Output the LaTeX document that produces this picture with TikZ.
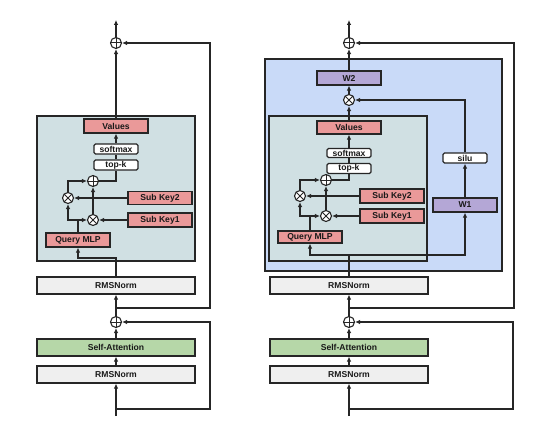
\documentclass[tikz,border=0pt]{standalone}
\usepackage{fontspec}
\setmainfont{Liberation Sans}
\usepackage{tikz}
\usetikzlibrary{arrows.meta,positioning}
\definecolor{memfill}{HTML}{D0E0E3}
\definecolor{ffnfill}{HTML}{C9DAF8}
\definecolor{keyfill}{HTML}{EA9999}
\definecolor{attnfill}{HTML}{B6D7A8}
\definecolor{wfill}{HTML}{B4A7D6}
\definecolor{normfill}{HTML}{EFEFEF}
\definecolor{edge}{HTML}{262626}
\tikzset{
flow/.style={draw=edge, line width=1.25pt, -{Latex[length=5pt,width=4.6pt]}}, % directed edges
wire/.style={draw=edge, line width=1.25pt}, % plain edges
box/.style={draw=edge, line width=1.25pt, inner sep=0pt, font=\bfseries\fontsize{8.6}{9}\selectfont, text=black!90},
wide/.style={box, minimum width=158pt, minimum height=17pt}, % RMSNorm, attention
keybox/.style={box, fill=keyfill, minimum width=64pt, minimum height=14pt},
wbox/.style={box, fill=wfill, minimum width=64pt, minimum height=14pt},
opbox/.style={box, fill=white, rounded corners=1.5pt, minimum width=44pt, minimum height=10pt},
region/.style={draw=edge, line width=1.25pt},
plusop/.style={circle, draw=edge, line width=1.1pt, fill=white, minimum size=11pt, inner sep=0pt,
  path picture={\draw[edge, line width=1pt] (path picture bounding box.north) -- (path picture bounding box.south)
  (path picture bounding box.west) -- (path picture bounding box.east);}},
timesop/.style={circle, draw=edge, line width=1.1pt, fill=white, minimum size=11pt, inner sep=0pt,
  path picture={\draw[edge, line width=1pt] (path picture bounding box.north west) -- (path picture bounding box.south east)
  (path picture bounding box.south west) -- (path picture bounding box.north east);}}
}
\begin{document}
\begin{tikzpicture}[x=1pt, y=-1pt]
    \useasboundingbox (0,0) rectangle (554,428);
    % left: memory layer
    \draw [region, fill=memfill] (37,116) rectangle (195,261);
    \node [plusop] (lplustop) at (116,43) {};
    \node [keybox] (lvalues) at (116,126) {Values};
    \node [opbox] (lsoftmax) at (116,149) {softmax};
    \node [opbox] (ltopk) at (116,165) {top-k};
    \node [plusop] (lplus) at (93,181) {};
    \node [timesop] (lmul2) at (68,198) {};
    \node [timesop] (lmul1) at (93,220) {};
    \node [keybox, minimum height=13pt] (lkey2) at (160,198) {Sub Key2};
    \node [keybox] (lkey1) at (160,220) {Sub Key1};
    \node [keybox] (lquery) at (78,240) {Query MLP};
    \node [wide, fill=normfill] (lnorm2) at (116,285.5) {RMSNorm};
    \node [plusop] (lplusmid) at (116,322) {};
    \node [wide, fill=attnfill] (lattn) at (116,347.5) {Self-Attention};
    \node [wide, fill=normfill] (lnorm1) at (116,374.5) {RMSNorm};
    \coordinate (lin) at (116,416);
    \coordinate (lout) at (116,20);
    \coordinate (lbranch1) at (116,409);
    \coordinate (lbranch2) at (116,308);
    \coordinate (lsplit) at (116,258);
    \draw [flow] (lin) -- (lnorm1.south);
    \draw [flow] (lnorm1.north) -- (lattn.south);
    \draw [flow] (lattn.north) -- (lplusmid.south);
    \draw [flow] (lbranch1) -- ++(94,0) |- (lplusmid.east);
    \draw [flow] (lplusmid.north) -- (lnorm2.south);
    \draw [flow] (lbranch2) -- ++(94,0) |- (lplustop.east);
    \draw [flow] (lnorm2.north) -- (lsplit) -| (lquery.south);
    \draw [flow] (lquery.north) |- (lmul1.west);
    \draw [flow] (lquery.north |- lmul1) -| (lmul2.south);
    \draw [flow] (lkey1.west) -- (lmul1.east);
    \draw [flow] (lkey2.west) -- (lmul2.east);
    \draw [flow] (lmul1.north) -- (lplus.south);
    \draw [flow] (lmul2.north) |- (lplus.west);
    \draw [wire] (lplus.east) -| (ltopk.south);
    \draw [wire] (ltopk.north) -- (lsoftmax.south);
    \draw [flow] (lsoftmax.north) -- (lvalues.south);
    \draw [flow] (lvalues.north) -- (lplustop.south);
    \draw [flow] (lplustop.north) -- (lout);
    % right: gated memory layer
    \draw [region, fill=ffnfill] (265,59) rectangle (502,271);
    \draw [region, fill=memfill] (269,116) rectangle (427,261);
    \node [plusop] (rplustop) at (349,43) {};
    \node [wbox] (rw2) at (349,78) {W2};
    \node [timesop] (rmulout) at (349,100) {};
    \node [keybox, minimum height=13pt] (rvalues) at (349,127.5) {Values};
    \node [opbox, minimum height=9pt] (rsoftmax) at (349,153) {softmax};
    \node [opbox] (rtopk) at (349,168.5) {top-k};
    \node [plusop] (rplus) at (326,180) {};
    \node [timesop] (rmul2) at (300,196) {};
    \node [timesop] (rmul1) at (326,216) {};
    \node [keybox] (rkey2) at (392,196) {Sub Key2};
    \node [keybox] (rkey1) at (392,216) {Sub Key1};
    \node [keybox, minimum height=12pt] (rquery) at (310,237) {Query MLP};
    \node [opbox] (rsilu) at (465,158) {silu};
    \node [wbox] (rw1) at (465,205) {W1};
    \node [wide, fill=normfill] (rnorm2) at (349,285.5) {RMSNorm};
    \node [plusop] (rplusmid) at (349,322) {};
    \node [wide, fill=attnfill] (rattn) at (349,347.5) {Self-Attention};
    \node [wide, fill=normfill] (rnorm1) at (349,374.5) {RMSNorm};
    \coordinate (rin) at (349,416);
    \coordinate (rout) at (349,20);
    \coordinate (rbranch1) at (349,409);
    \coordinate (rbranch2) at (349,308);
    \coordinate (rsplit) at (349,255);
    \draw [flow] (rin) -- (rnorm1.south);
    \draw [flow] (rnorm1.north) -- (rattn.south);
    \draw [flow] (rattn.north) -- (rplusmid.south);
    \draw [flow] (rbranch1) -- ++(164,0) |- (rplusmid.east);
    \draw [flow] (rplusmid.north) -- (rnorm2.south);
    \draw [flow] (rbranch2) -- ++(165,0) |- (rplustop.east);
    \draw [flow] (rnorm2.north) -- (rsplit) -| (rquery.south);
    \draw [flow] (rsplit) -| (rw1.south);
    \draw [flow] (rw1.north) -- (rsilu.south);
    \draw [flow] (rsilu.north) |- (rmulout.east);
    \draw [flow] (rquery.north) |- (rmul1.west);
    \draw [flow] (rquery.north |- rmul1) -| (rmul2.south);
    \draw [flow] (rkey1.west) -- (rmul1.east);
    \draw [flow] (rkey2.west) -- (rmul2.east);
    \draw [flow] (rmul1.north) -- (rplus.south);
    \draw [flow] (rmul2.north) |- (rplus.west);
    \draw [wire] (rplus.east) -| (rtopk.south);
    \draw [wire] (rtopk.north) -- (rsoftmax.south);
    \draw [flow] (rsoftmax.north) -- (rvalues.south);
    \draw [flow] (rvalues.north) -- (rmulout.south);
    \draw [flow] (rmulout.north) -- (rw2.south);
    \draw [flow] (rw2.north) -- (rplustop.south);
    \draw [flow] (rplustop.north) -- (rout);
\end{tikzpicture}
\end{document}
